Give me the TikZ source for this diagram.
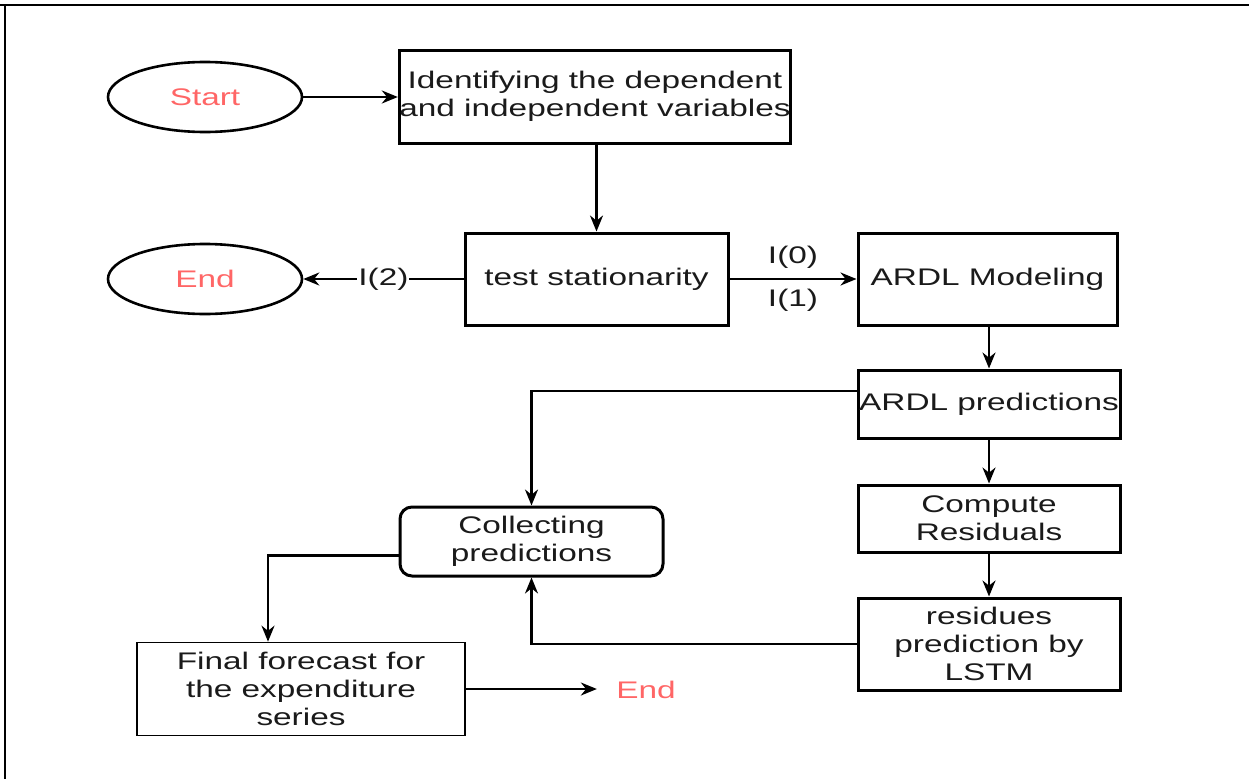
\documentclass[tikz,border=0pt]{standalone}
\usepackage{fontspec}
\setmainfont[FakeStretch=1.39]{Liberation Sans}
\usetikzlibrary{arrows.meta,shapes.geometric}
\definecolor{redtxt}{HTML}{FF6666}
\definecolor{txt}{HTML}{1A1A1A}
\begin{document}
\begin{tikzpicture}[x=1pt,y=-1pt,
  every node/.style={font=\fontsize{24}{28}\selectfont,text=txt},
  boxn/.style={draw,line width=3pt,align=center,inner sep=0pt},
  ell/.style={draw,ellipse,line width=2.6pt,minimum width=194pt,minimum height=70pt,text=redtxt},
  conn/.style={line width=2.4pt},
  arr/.style={conn,-{Stealth[length=16pt,width=13pt]}}]
\useasboundingbox (0,0) rectangle (1249,779);
\draw[line width=2.8pt] (0,5) -- (1249,5);
\draw[line width=2.8pt] (5,5) -- (5,779);
\node[ell] (start) at (205,97) {Start};
\node[boxn,minimum width=386pt,minimum height=93pt] (ident) at (595,96.5) {Identifying the dependent\\and independent variables};
\node[boxn,minimum width=263pt,minimum height=92pt] (test) at (596.5,279) {test stationarity};
\node[ell] (end1) at (205,279) {End};
\node[boxn,minimum width=259pt,minimum height=92pt] (ardl) at (987.5,279) {ARDL Modeling};
\node[boxn,minimum width=262pt,minimum height=68pt] (pred) at (989,404) {ARDL predictions};
\node[boxn,minimum width=262pt,minimum height=67pt] (comp) at (989,518.5) {Compute\\Residuals};
\node[boxn,minimum width=262pt,minimum height=92pt] (resid) at (989,644) {residues\\prediction by\\LSTM};
\node[boxn,rounded corners=12pt,minimum width=263pt,minimum height=69pt] (coll) at (531.5,541.5) {Collecting\\predictions};
\node[boxn,line width=1.7pt,minimum width=328pt,minimum height=93pt] (final) at (301,689) {Final forecast for\\the expenditure\\series};
\node[text=redtxt] (end2) at (646,690) {End};
\path (final.east) ++(131,0) coordinate (arrtip);
\draw[arr] (start.east) -- (ident.west |- start.east);
\draw[arr] (ident.south -| test.north) -- (test.north);
\draw[arr] (test.west) -- node[fill=white,inner sep=1pt] {I(2)} (end1.east);
\draw[arr] (test.east) -- node[above=6pt] {I(0)} node[below=6pt] {I(1)} (ardl.west);
\draw[arr] (ardl.south -| pred.north) -- (pred.north);
\draw[arr] (pred.south) -- (comp.north);
\draw[arr] (comp.south) -- (resid.north);
\draw[arr] ([yshift=13pt]pred.west) -| (coll.north);
\draw[arr] (resid.west) -| (coll.south);
\draw[arr] ([yshift=-14pt]coll.west) -| ([xshift=-33pt]final.north);
\draw[arr] (final.east) -- (arrtip);
\end{tikzpicture}
\end{document}
